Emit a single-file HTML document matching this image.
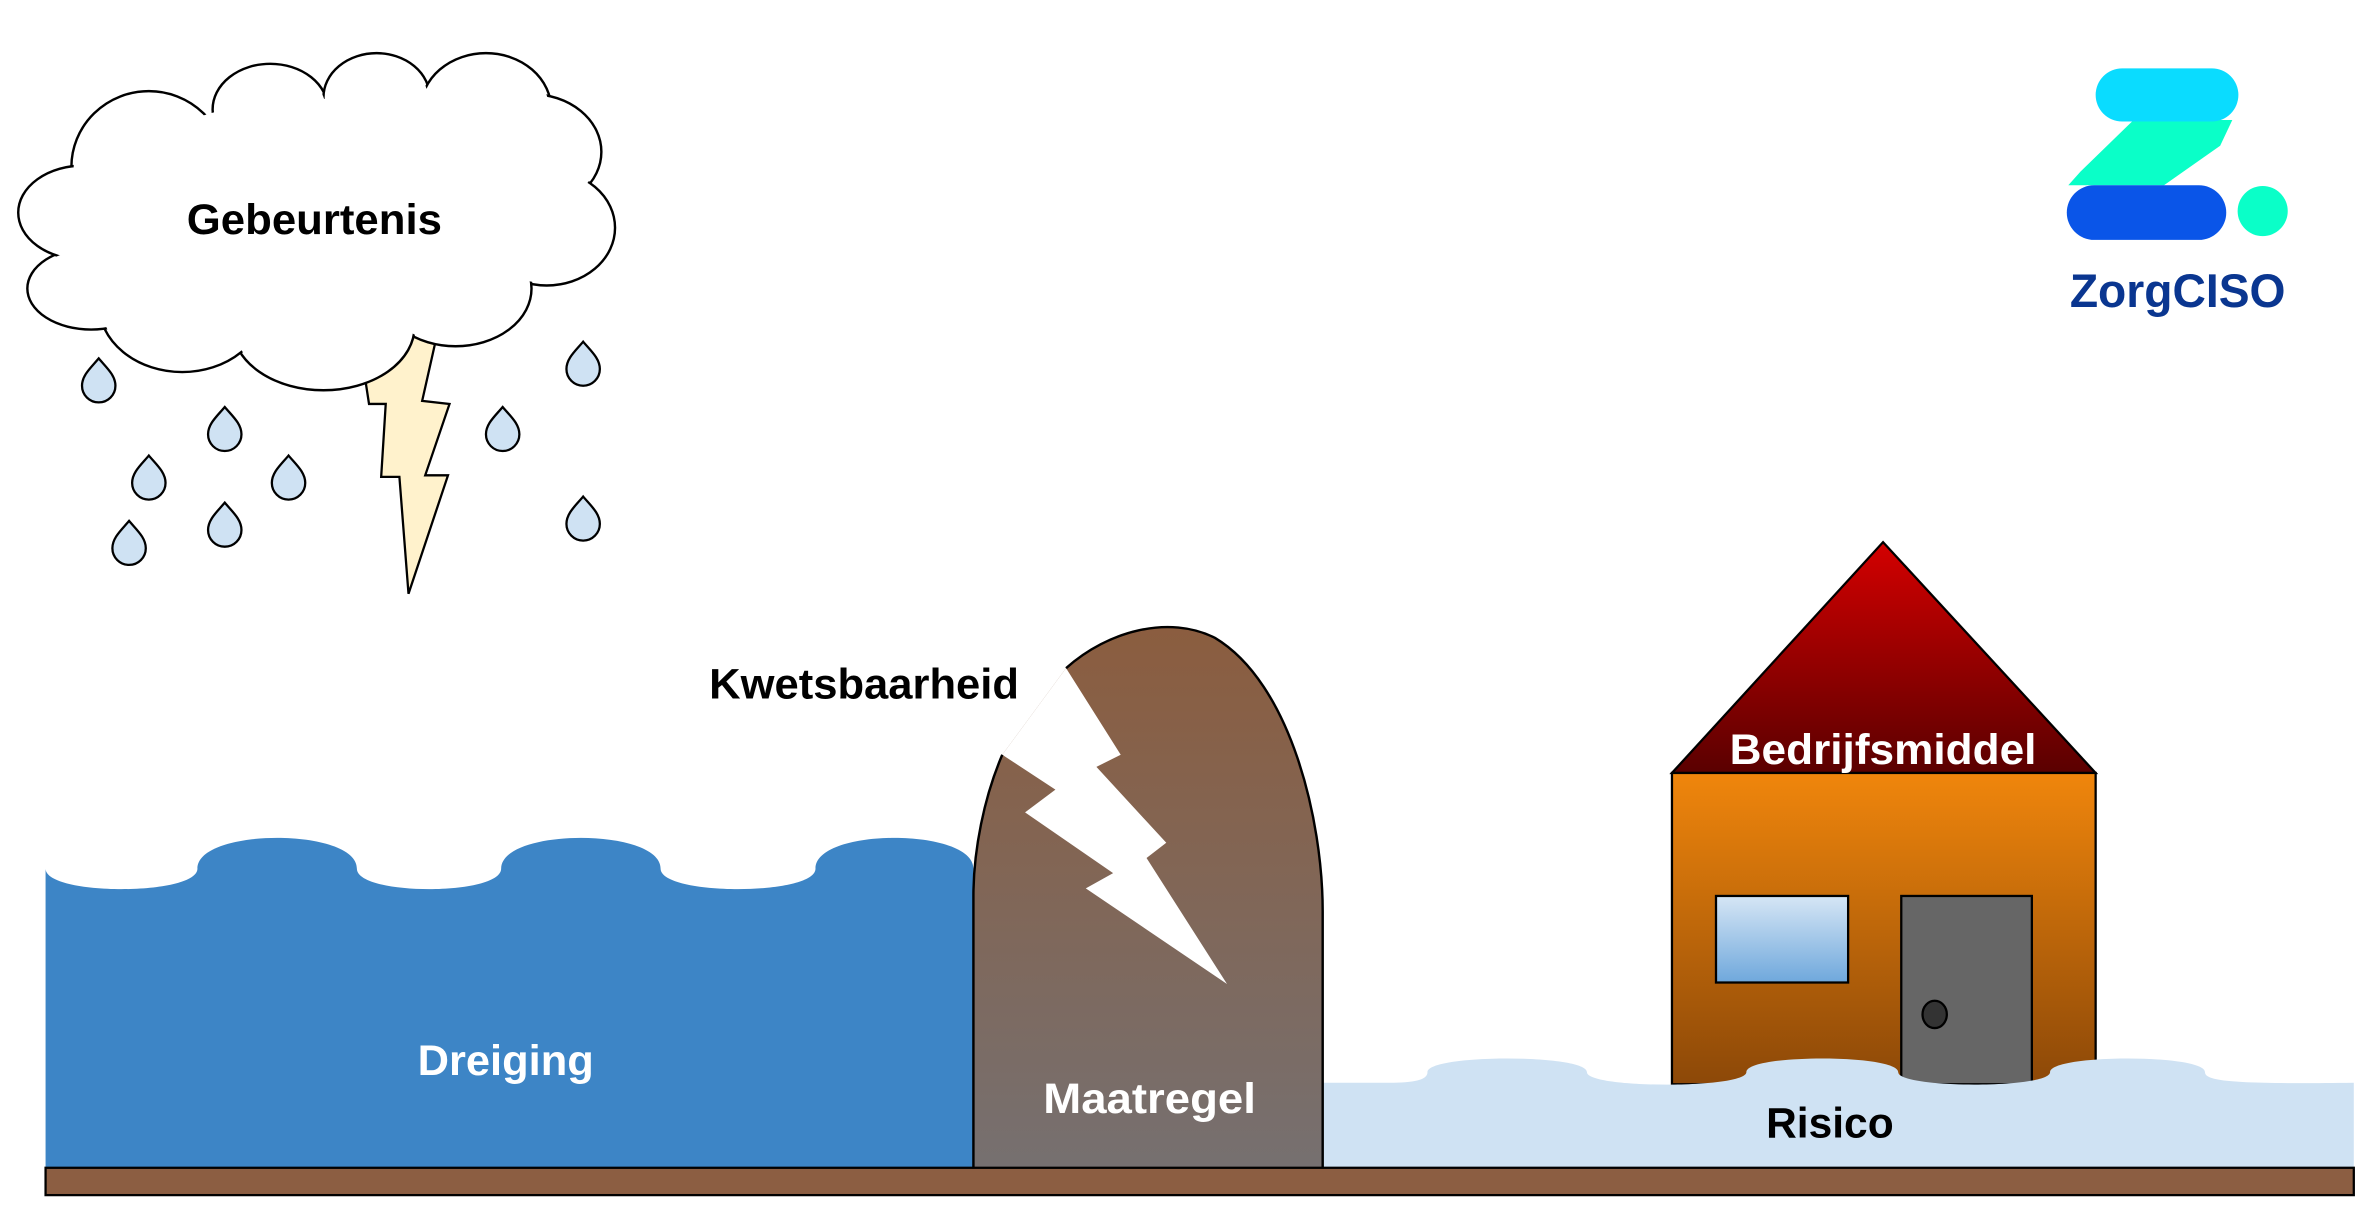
<!DOCTYPE html>
<html><head><meta charset="utf-8"><style>
html,body{margin:0;padding:0;background:#fff;}
svg{display:block;}
text{font-family:"Liberation Sans",sans-serif;font-weight:bold;}
</style></head><body>
<svg width="2369" height="1210" viewBox="0 0 1560 796.8" xmlns="http://www.w3.org/2000/svg">
<defs>
<linearGradient id="wall" x1="0" y1="0" x2="0" y2="1"><stop offset="0" stop-color="#8b5d3f"/><stop offset="1" stop-color="#767070"/></linearGradient>
<linearGradient id="roof" x1="0" y1="0" x2="0" y2="1"><stop offset="0" stop-color="#d40000"/><stop offset="1" stop-color="#5a0000"/></linearGradient>
<linearGradient id="body" x1="0" y1="0" x2="0" y2="1"><stop offset="0" stop-color="#f0860c"/><stop offset="1" stop-color="#8c4808"/></linearGradient>
<linearGradient id="win" x1="0" y1="0" x2="0" y2="1"><stop offset="0" stop-color="#d6e6f5"/><stop offset="1" stop-color="#6fa8dc"/></linearGradient>
<path id="drop" d="M0,-14 C5,-8 11,-3 11,4 A11,11 0 1,1 -11,4 C-11,-3 -5,-8 0,-14 Z"/>
</defs>

<!-- lightning -->
<polygon points="236,215 289,215 278,264 296,266 280,313 295,313 269,391 263,314 251,314 254,266 243,266 241,253" fill="#fff2cc" stroke="#000" stroke-width="1.5"/>

<!-- cloud -->
<g fill="#fff" stroke="#000" stroke-width="1.6">
<ellipse cx="98" cy="110" rx="51" ry="50"/>
<ellipse cx="178" cy="72" rx="38" ry="30"/>
<ellipse cx="248" cy="64" rx="35" ry="29"/>
<ellipse cx="320" cy="72" rx="43" ry="37"/>
<ellipse cx="350" cy="100" rx="46" ry="38"/>
<ellipse cx="360" cy="150" rx="45" ry="38"/>
<ellipse cx="300" cy="190" rx="50" ry="38"/>
<ellipse cx="213" cy="215" rx="60" ry="42"/>
<ellipse cx="120" cy="200" rx="55" ry="45"/>
<ellipse cx="60" cy="190" rx="42" ry="27"/>
<ellipse cx="55" cy="140" rx="43" ry="31"/>
</g>
<g fill="#fff">
<ellipse cx="98" cy="110" rx="49.5" ry="48.5"/>
<ellipse cx="178" cy="72" rx="36.5" ry="28.5"/>
<ellipse cx="248" cy="64" rx="33.5" ry="27.5"/>
<ellipse cx="320" cy="72" rx="41.5" ry="35.5"/>
<ellipse cx="350" cy="100" rx="44.5" ry="36.5"/>
<ellipse cx="360" cy="150" rx="43.5" ry="36.5"/>
<ellipse cx="300" cy="190" rx="48.5" ry="36.5"/>
<ellipse cx="213" cy="215" rx="58.5" ry="40.5"/>
<ellipse cx="120" cy="200" rx="53.5" ry="43.5"/>
<ellipse cx="60" cy="190" rx="40.5" ry="25.5"/>
<ellipse cx="55" cy="140" rx="41.5" ry="29.5"/>
<ellipse cx="210" cy="145" rx="150" ry="80"/>
</g>
<text x="207" y="154" font-size="28" text-anchor="middle" textLength="168" lengthAdjust="spacingAndGlyphs">Gebeurtenis</text>

<!-- drops -->
<g fill="#cfe2f3" stroke="#000" stroke-width="1.5">
<use href="#drop" x="65" y="250"/>
<use href="#drop" x="148" y="282"/>
<use href="#drop" x="98" y="314"/>
<use href="#drop" x="190" y="314"/>
<use href="#drop" x="148" y="345"/>
<use href="#drop" x="85" y="357"/>
<use href="#drop" x="384" y="239"/>
<use href="#drop" x="331" y="282"/>
<use href="#drop" x="384" y="341"/>
</g>

<!-- blue water -->
<path d="M30,572 C30,590 130,590 130,572 C130,545 235,545 235,572 C235,590 330,590 330,572 C330,545 435,545 435,572 C435,590 537,590 537,572 C537,545 641,545 641,572 L641,769 L30,769 Z" fill="#3d85c6"/>
<text x="333" y="708" font-size="28" fill="#fff" text-anchor="middle" textLength="116" lengthAdjust="spacingAndGlyphs">Dreiging</text>

<!-- house -->
<polygon points="1101,509 1240,357 1380,509" fill="url(#roof)" stroke="#000" stroke-width="1.5"/>
<rect x="1101" y="509" width="279" height="205" fill="url(#body)" stroke="#000" stroke-width="1.5"/>
<rect x="1130" y="590" width="87" height="57" fill="url(#win)" stroke="#000" stroke-width="1.5"/>
<rect x="1252" y="590" width="86" height="124" fill="#666" stroke="#000" stroke-width="1.5"/>
<ellipse cx="1274" cy="668" rx="8" ry="9" fill="#333" stroke="#000" stroke-width="1.5"/>
<text x="1240" y="503" font-size="28" fill="#fff" text-anchor="middle" textLength="202" lengthAdjust="spacingAndGlyphs">Bedrijfsmiddel</text>

<!-- light water -->
<path d="M871,713 L915,713 C935,713 940,710 940,706 C940,694 1045,694 1045,706 C1045,717 1150,717 1150,706 C1150,694 1250,694 1250,706 C1250,717 1350,717 1350,706 C1350,694 1452,694 1452,706 C1452,712 1470,714 1550,713 L1550,769 L871,769 Z" fill="#cfe2f3"/>
<text x="1205" y="749" font-size="28" text-anchor="middle" textLength="84" lengthAdjust="spacingAndGlyphs">Risico</text>

<!-- wall -->
<path d="M641,769 L641,590 C641,560 648,525 660,497 L702,440 C730,415 770,405 800,420 C850,450 871,540 871,600 L871,769 Z" fill="url(#wall)"/>
<polygon points="660,497 695,520 675,535 733,575 715,585 808,648 755,565 768,555 722,505 738,497 702,440" fill="#fff"/>
<path d="M641,769 L641,590 C641,560 648,525 660,497" fill="none" stroke="#000" stroke-width="1.6"/>
<path d="M702,440 C730,415 770,405 800,420 C850,450 871,540 871,600 L871,769" fill="none" stroke="#000" stroke-width="1.6"/>
<text x="757" y="733" font-size="28" fill="#fff" text-anchor="middle" textLength="140" lengthAdjust="spacingAndGlyphs">Maatregel</text>
<text x="569" y="460" font-size="28" text-anchor="middle" textLength="204" lengthAdjust="spacingAndGlyphs">Kwetsbaarheid</text>

<!-- ground -->
<rect x="30" y="769" width="1520" height="18" fill="#8c5e42" stroke="#000" stroke-width="1.5"/>

<!-- logo -->
<polygon points="1405,79 1470,79 1462,96 1425,122 1362,122 1370,113" fill="#0affc8"/>
<rect x="1380" y="45" width="94" height="35" rx="17.5" fill="#0adcff"/>
<rect x="1361" y="122" width="105" height="36" rx="18" fill="#0a55e8"/>
<circle cx="1490" cy="139" r="16.5" fill="#0affc8"/>
<text x="1434" y="202" font-size="31" fill="#0a3690" text-anchor="middle" textLength="142" lengthAdjust="spacingAndGlyphs">ZorgCISO</text>
</svg>
</body></html>
